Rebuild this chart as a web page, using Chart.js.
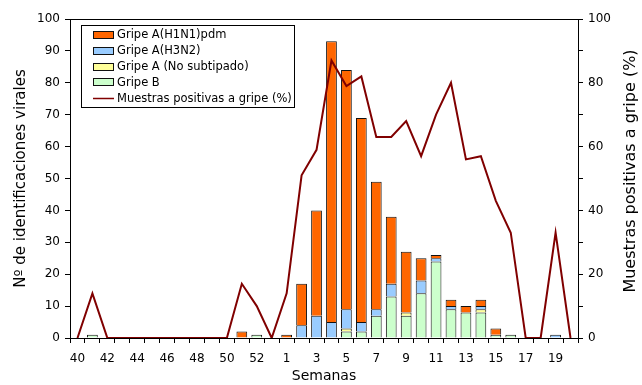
<!DOCTYPE html>
<html>
<head>
<meta charset="utf-8">
<script src="https://cdn.jsdelivr.net/npm/chart.js@4.4.0/dist/chart.umd.min.js"></script>
<style>
  html, body { margin: 0; padding: 0; background: #fff; }
</style>
</head>
<body>
<canvas id="grafico" width="642" height="385"></canvas>
<script>
// Semanas 40-53 (2009) y 1-20 (2010)
const semanas = ['40','41','42','43','44','45','46','47','48','49','50','51','52','53',
  '1','2','3','4','5','6','7','8','9','10','11','12','13','14','15','16','17','18','19','20'];

// Identificaciones virales por tipo (se apilan en este orden, de abajo arriba)
const gripeB      = [0,1,0,0,0,0,0,0,0,0,0,0,1,0, 0,0,0,0,2,2,7,13,7,14,24,9,8,8,1,1,0,0,0,0];
const noSubtipado = [0,0,0,0,0,0,0,0,0,0,0,0,0,0, 0,0,0,0,1,0,0,0,1,0,0,0,0,1,0,0,0,0,0,0];
const h3n2        = [0,0,0,0,0,0,0,0,0,0,0,0,0,0, 0,4,7,5,6,3,2,4,0,4,1,1,0,1,0,0,0,0,1,0];
const h1n1pdm     = [0,0,0,0,0,0,0,0,0,0,0,2,0,0, 1,13,33,88,75,64,40,21,19,7,1,2,2,2,2,0,0,0,0,0];

// % de muestras positivas a gripe
const positivas   = [0,14,0,0,0,0,0,0,0,0,0,17,10,0, 14,51,59,87,79,82,63,63,68,57,70,80,56,57,43,33,0,0,33,0];

const colores = {
  h1n1: '#FF6600',
  h3n2: '#99CCFF',
  nosub: '#FFFF99',
  b: '#CCFFCC',
  linea: '#800000'
};

Chart.defaults.font.family = "'DejaVu Sans', sans-serif";
Chart.defaults.color = '#000';

function barra(label, data, color) {
  return {
    type: 'bar',
    label: label,
    data: data,
    backgroundColor: color,
    borderColor: '#111',
    borderWidth: 1,
    barPercentage: 0.72,
    categoryPercentage: 1,
    yAxisID: 'y',
    order: 1
  };
}

// leyenda dentro del área del gráfico + título del eje derecho + borde superior
const extras = {
  id: 'extras',
  afterDraw(chart) {
    const ctx = chart.ctx;
    const area = chart.chartArea;
    ctx.save();

    // borde superior del área
    ctx.strokeStyle = '#000';
    ctx.lineWidth = 1;
    ctx.beginPath();
    ctx.moveTo(area.left, area.top + 0.5);
    ctx.lineTo(area.right, area.top + 0.5);
    ctx.stroke();

    // caja de la leyenda
    const bx = 81, by = 25, bw = 213, bh = 82;
    ctx.fillStyle = '#fff';
    ctx.fillRect(bx, by, bw, bh);
    ctx.strokeRect(bx + 0.5, by + 0.5, bw, bh);

    const orden = [3, 2, 1, 0, 4];
    ctx.font = "11.5px 'DejaVu Sans'";
    ctx.textBaseline = 'middle';
    orden.forEach((idx, i) => {
      const ds = chart.data.datasets[idx];
      const y = by + 10 + i * 15.8;
      if (ds.type === 'line') {
        ctx.strokeStyle = ds.borderColor;
        ctx.lineWidth = 1.5;
        ctx.beginPath();
        ctx.moveTo(93, Math.round(y) + 0.5);
        ctx.lineTo(114, Math.round(y) + 0.5);
        ctx.stroke();
      } else {
        ctx.fillStyle = ds.backgroundColor;
        ctx.fillRect(93, Math.round(y) - 3, 20, 7);
        ctx.strokeStyle = '#111';
        ctx.lineWidth = 1;
        ctx.strokeRect(93.5, Math.round(y) - 3.5, 20, 7);
      }
      ctx.fillStyle = '#000';
      ctx.fillText(ds.label, 117, y + 0.5);
    });

    // título del eje derecho (de abajo arriba)
    ctx.translate(631, 171);
    ctx.rotate(-Math.PI / 2);
    ctx.textAlign = 'center';
    ctx.font = "16px 'DejaVu Sans'";
    ctx.fillText('Muestras positivas a gripe (%)', 0, 0);
    ctx.restore();
  }
};

new Chart(document.getElementById('grafico'), {
  data: {
    labels: semanas,
    datasets: [
      barra('Gripe B', gripeB, colores.b),
      barra('Gripe A (No subtipado)', noSubtipado, colores.nosub),
      barra('Gripe A(H3N2)', h3n2, colores.h3n2),
      barra('Gripe A(H1N1)pdm', h1n1pdm, colores.h1n1),
      {
        type: 'line',
        label: 'Muestras positivas a gripe (%)',
        data: positivas,
        borderColor: colores.linea,
        backgroundColor: colores.linea,
        borderWidth: 2,
        pointRadius: 0,
        tension: 0,
        yAxisID: 'y1',
        order: 0
      }
    ]
  },
  options: {
    responsive: false,
    animation: false,
    devicePixelRatio: 1,
    layout: { padding: { top: 19, left: 0, right: 0, bottom: 0 } },
    plugins: {
      legend: { display: false },
      tooltip: { enabled: false }
    },
    scales: {
      x: {
        stacked: true,
        offset: true,
        grid: { drawOnChartArea: false, offset: true, color: '#000', tickLength: 5 },
        border: { color: '#000' },
        ticks: {
          autoSkip: false,
          maxRotation: 0,
          padding: 9,
          font: { size: 12 },
          callback: function (v, i) { return i % 2 === 0 ? this.getLabelForValue(v) : ''; }
        },
        title: { display: true, text: 'Semanas', font: { size: 14 }, padding: { top: 0, bottom: 0 } },
        afterFit: s => { s.height = 47; }
      },
      y: {
        position: 'left',
        stacked: true,
        min: 0,
        max: 100,
        grid: { drawOnChartArea: false, color: '#000', tickLength: 5 },
        border: { color: '#000' },
        ticks: {
          stepSize: 5,
          padding: 5,
          font: { size: 12 },
          callback: v => (v % 10 === 0 ? v : '')
        },
        title: { display: true, text: 'Nº de identificaciones virales', font: { size: 15 }, padding: { top: 12 } },
        afterFit: s => { s.width = 70; }
      },
      y1: {
        position: 'right',
        min: 0,
        max: 100,
        grid: { drawOnChartArea: false, color: '#000', tickLength: 5 },
        border: { color: '#000' },
        ticks: {
          stepSize: 10,
          padding: 5,
          font: { size: 12 },
          callback: v => (v % 20 === 0 ? v : '')
        },
        afterFit: s => { s.width = 64; }
      }
    }
  },
  plugins: [extras]
});
</script>
</body>
</html>
